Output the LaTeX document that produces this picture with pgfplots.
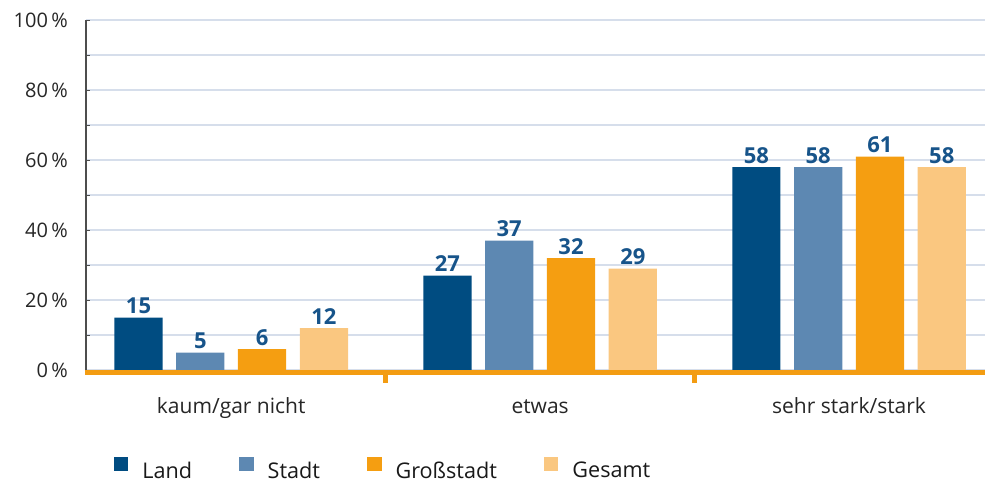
\documentclass[border=0pt]{standalone}
\usepackage{pgfplots}
\pgfplotsset{compat=1.18}
\usepackage{fontspec}
\setmainfont{Open Sans}
\definecolor{cLand}{HTML}{004C81}
\definecolor{cStadt}{HTML}{5D88B2}
\definecolor{cGross}{HTML}{F59E11}
\definecolor{cGesamt}{HTML}{FAC780}
\definecolor{cLab}{HTML}{17548A}
\definecolor{cGrid}{HTML}{D6DEEB}
\definecolor{cAxis}{HTML}{4D4D4D}
\definecolor{cOrange}{HTML}{F39C12}
\begin{document}
\begin{tikzpicture}
\begin{axis}[name=ax,
  scale only axis, width=899pt, height=350pt,
  xmin=-0.47, xmax=2.44, ymin=0, ymax=100,
  clip=false,
  ybar=13.6pt, bar width=48.2pt,
  axis x line*=bottom, axis y line*=left,
  x axis line style={draw=none},
  y axis line style={cAxis, line width=1.5pt},
  xtick={0,1,2}, xticklabels={kaum/gar nicht, etwas, sehr stark/stark},
  x tick style={draw=none},
  ytick={0,20,...,100}, minor ytick={10,30,...,90},
  tick align=inside, major tick length=4pt, minor tick length=4pt,
  y tick style={cAxis, line width=1pt},
  ymajorgrids, yminorgrids,
  major grid style={cGrid, line width=1.5pt},
  minor grid style={cGrid, line width=1.5pt},
  yticklabel={\pgfmathprintnumber{\tick}\,\%},
  /pgf/number format/assume math mode=true,
  yticklabel style={font=\fontsize{20}{24}\selectfont, inner sep=0pt, anchor=east, xshift=-18pt, text=black!85},
  xticklabel style={font=\fontsize{21}{25}\selectfont, anchor=base, yshift=-43pt, text=black!85},
  nodes near coords,
  every node near coord/.append style={font=\bfseries\fontsize{22}{26}\selectfont, text=cLab},
  legend columns=4,
  legend image code/.code={\fill[#1] (0pt,-0.5pt) rectangle (14.5pt,14pt);},
  legend style={at={(0.0311,-0.314)}, anchor=south west, draw=none, inner sep=0pt, outer sep=0pt,
    font=\fontsize{21.6}{26}\selectfont, text=black!90,
    nodes={inner sep=0pt},
    /tikz/every odd column/.append style={column sep=14pt},
    /tikz/every even column/.append style={column sep=47pt}},
]
\addplot[fill=cLand, draw=none] coordinates {(0,15) (1,27) (2,58)};
\addplot[fill=cStadt, draw=none] coordinates {(0,5) (1,37) (2,58)};
\addplot[fill=cGross, draw=none] coordinates {(0,6) (1,32) (2,61)};
\addplot[fill=cGesamt, draw=none] coordinates {(0,12) (1,29) (2,58)};
\legend{Land, Stadt, Großstadt, Gesamt}
\draw[cOrange, line width=5pt] ([xshift=-1pt,yshift=-2.5pt]axis cs:-0.47,0) -- ([yshift=-2.5pt]axis cs:2.44,0);
\draw[cOrange, line width=4.5pt] (axis cs:0.5,0) -- ([yshift=-13pt]axis cs:0.5,0);
\draw[cOrange, line width=4.5pt] (axis cs:1.5,0) -- ([yshift=-13pt]axis cs:1.5,0);
\end{axis}
\pgfresetboundingbox
\path[use as bounding box] ([xshift=-86pt,yshift=-113pt]ax.south west) rectangle ([yshift=20pt]ax.north east);
\end{tikzpicture}
\end{document}
